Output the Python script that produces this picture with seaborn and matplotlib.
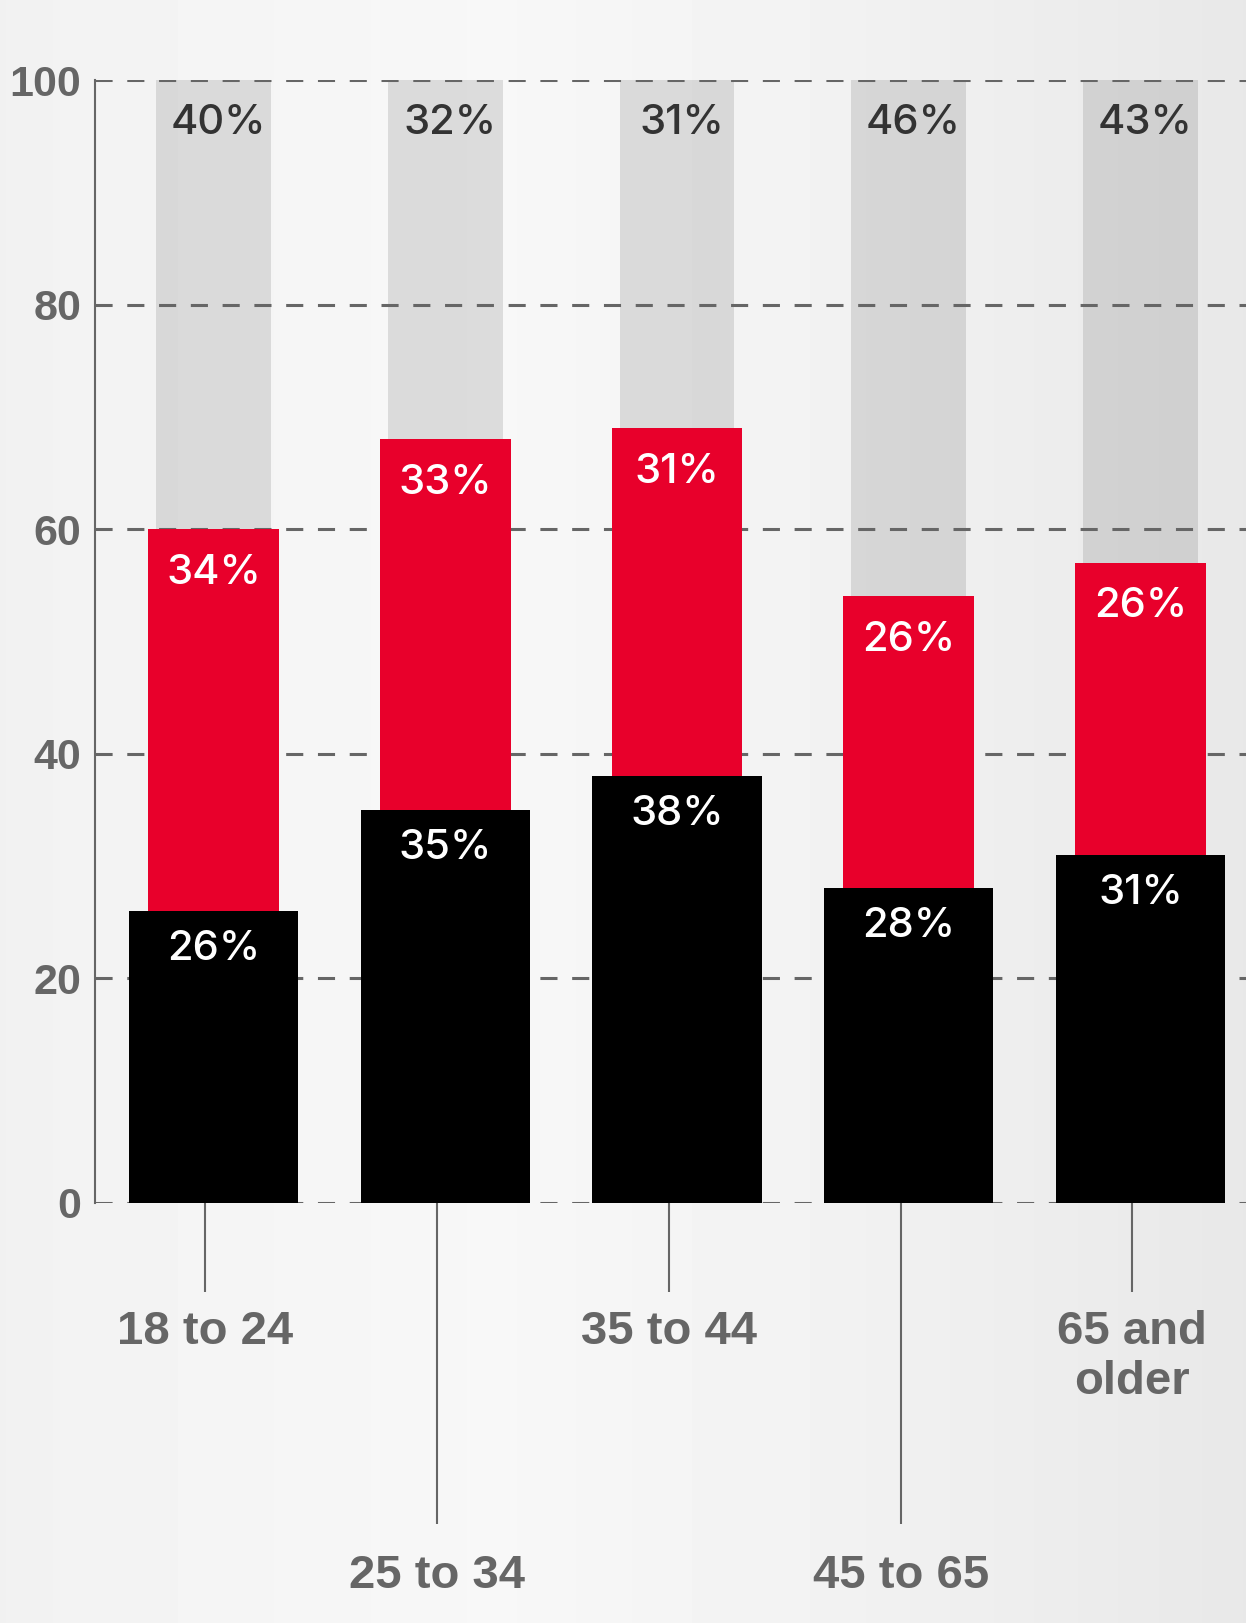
import numpy as np
import pandas as pd
import matplotlib
matplotlib.use("Agg")
import matplotlib.pyplot as plt
import seaborn as sns

# ---- data ----
categories = ["18 to 24", "25 to 34", "35 to 44", "45 to 65", "65 and\nolder"]
black_vals = [26, 35, 38, 28, 31]
red_vals = [34, 33, 31, 26, 26]
gray_vals = [40, 32, 31, 46, 43]
y_ticks = [0, 20, 40, 60, 80, 100]

sns.set_theme(style="white")
plt.rcParams["font.family"] = ["Liberation Sans", "DejaVu Sans"]

df = pd.DataFrame({
    "cat": categories,
    "black": black_vals,
    "red": red_vals,
    "gray": gray_vals,
})
df["red_top"] = df["black"] + df["red"]
df["total"] = df["red_top"] + df["gray"]

W, H = 1246, 1623
fig = plt.figure(figsize=(W / 100, H / 100), dpi=100)

# background gradient
bg = fig.add_axes([0, 0, 1, 1], zorder=-10)
xs = np.linspace(0, 1, 400)
vals = np.interp(xs, [0, 0.1, 0.4, 0.7, 1.0], [0.945, 0.955, 0.97, 0.945, 0.91])
grad = np.tile(vals, (10, 1))
bg.imshow(grad, cmap="gray", vmin=0, vmax=1, aspect="auto", extent=[0, 1, 0, 1])
bg.set_axis_off()

left = 95 / W
bottom = 1 - 1202.6 / H
top = 1 - 80 / H
ax = fig.add_axes([left, bottom, 1 - left, top - bottom])
ax.set_facecolor("none")

# layers
bar_kw = dict(saturation=1, ax=ax, linewidth=0, edgecolor="none")
sns.barplot(data=df, x="cat", y="total", color="#000000", alpha=0.11, width=0.496, zorder=1, **bar_kw)
sns.barplot(data=df, x="cat", y="red_top", color="#e8002b", width=0.565, zorder=2, **bar_kw)
sns.barplot(data=df, x="cat", y="black", color="#000000", width=0.73, zorder=2.2, **bar_kw)

# grid
for yv in y_ticks:
    ax.axhline(yv, color="#666666", lw=2.2, ls=(0, (5.6, 4.8)), zorder=1.5)

ax.set_ylim(0, 100)
ax.set_xlim(-0.511, 4.455)

# spines
for s in ["top", "right", "bottom"]:
    ax.spines[s].set_visible(False)
ax.spines["left"].set_color("#666666")
ax.spines["left"].set_linewidth(1.5)

# y ticks
ax.set_yticks(y_ticks)
ax.set_yticklabels([str(v) for v in y_ticks])
ax.tick_params(axis="y", left=False, length=0, pad=10, labelsize=31, labelcolor="#666666")
for lab in ax.get_yticklabels():
    lab.set_fontweight("bold")

# x ticks: alternating short / long
idx = np.arange(len(categories))
tick_shift = -0.035
major = idx[::2]
minor = idx[1::2]
ax.set_xticks(major + tick_shift, [categories[i] for i in major])
ax.set_xticks(minor + tick_shift, [categories[i] for i in minor], minor=True)
ax.tick_params(axis="x", which="major", bottom=True, direction="out", length=64, width=1.5,
               color="#666666", pad=13, labelsize=34, labelcolor="#666666")
ax.tick_params(axis="x", which="minor", bottom=True, direction="out", length=231, width=1.5,
               color="#666666", pad=22, labelsize=34, labelcolor="#666666")
for lab in ax.get_xticklabels() + ax.get_xticklabels(minor=True):
    lab.set_fontweight("bold")
    lab.set_linespacing(1.2)
ax.set_xlabel("")
ax.set_ylabel("")

# value labels
lab_font = dict(family=["Inter", "DejaVu Sans"], fontsize=30, fontweight="medium",
                ha="center", va="center")
for i in idx:
    ax.text(i + 0.02, 96.2, f"{gray_vals[i]}%", color="#333333", zorder=5, **lab_font)
    ax.text(i, df["red_top"][i] - 3.9, f"{red_vals[i]}%", color="white", zorder=5, **lab_font)
    ax.text(i, black_vals[i] - 3.4, f"{black_vals[i]}%", color="white", zorder=5, **lab_font)

fig.savefig("out.png", dpi=100)
